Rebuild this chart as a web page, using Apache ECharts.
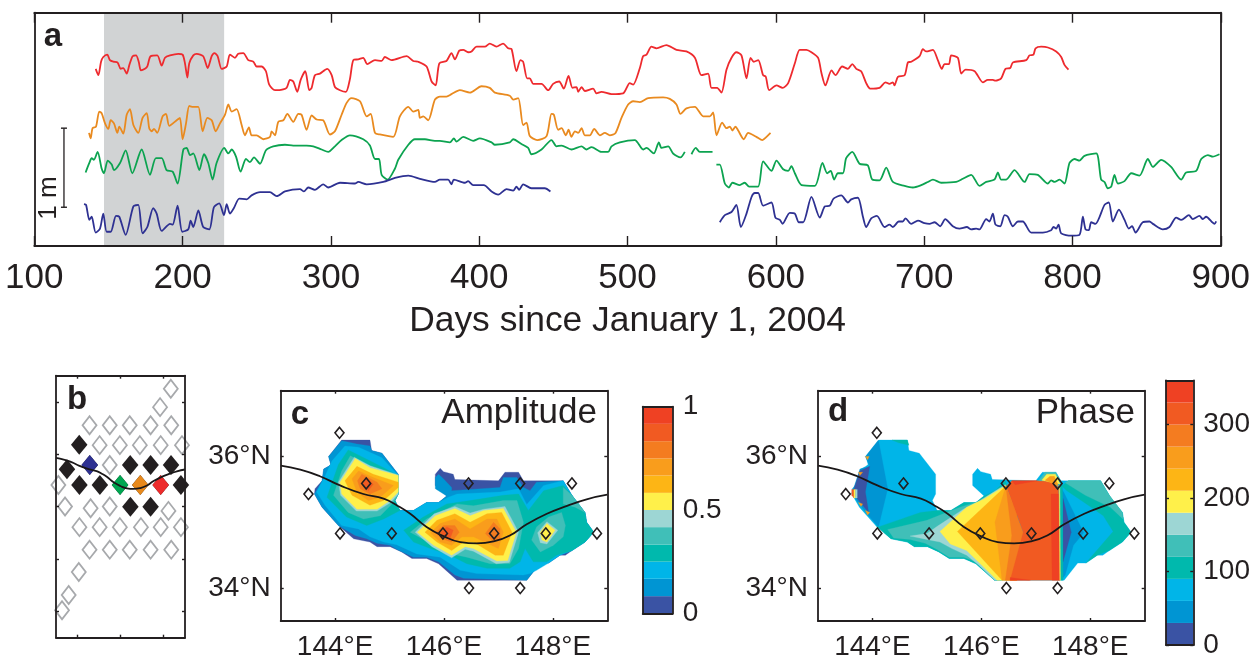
<!DOCTYPE html>
<html><head><meta charset="utf-8">
<script src="https://cdn.jsdelivr.net/npm/echarts@6/dist/echarts.min.js"></script>
<style>html,body{margin:0;padding:0;background:#fff}#c{width:1253px;height:661px}</style>
</head><body><div id="c"></div>
<script>
// ---------- panel a: sea level anomaly time series (day since 1 Jan 2004, height in m) ----------
const redDays=[141.4,143.2,145,146.5,149.2,151,153.3,156.2,158.2,160,162.3,164.1,166.3,168.6,170.4,171.9,174.6,176.2,178.4,182.9,185.9,188.1,191.5,197.1,200,201.6,203.2,204.5,207.2,209.5,213.9,216.9,219.6,221.4,223.6,226.3,229.7,231.9,235.3,237.5,240.9,244.3,247.7,249.9,253.3,256.2,258.4,262.3,265.2,270.1,272.4,274.6,277.3,279.6,282.7,285.4,287,289.2,292.6,297.5,300.5,302.7,306.1,310.1,312.8,315.1,318.4,321.8,324.5,329.7,334.2,336.4,340.9,351,355.5,358.9,364.5,367.9,370.6,373.1,377.9,381.3,383.6,386.5,389.2,392.5,394.8,398.2,403.8,407.1,411.6,416.1,419.5,421.8,425.1,427.8,429.6,432.3,434.1,436.4,442,446.5,449.8,453.9,457,460.2,462.9,465.6,466.7,469,471.2,476.8,479.1,482.4,489.2,497,501.5,503.8,508.3,510.5,512.8,516.1,519.5,526.2,533,539.7,545.4,549.8,554.3,556.6,560.4,563.3,566.7,570.1,573.4,576.8,580.2,582.9,585.1,588.1,591.4,593.2,595.5,600.4,604.5,608.3,612.8,616.1,620.6,624,628.5,630.7,633.4,637.5,640.2,644.7,648.6,651.5,654.2,657.5,660.9,663.6,669.9,673.9,676.6,678.9,680,682.3,686.8,689,691.3,696.9,699.1,701.4,705.9,709.2,711.9,713.7,716.7,718.2,722.7,725,727.9,734,739.6,742.9,746.3,748.1,751.9,754.8,758,759.8,768.8,771,773.7,775.1,778.9,783.4,789,792.4,794.6,797.3];
const redHeights=[2.24,2.16,2.33,2.39,2.42,2.35,2.33,2.32,2.24,2.25,2.18,2.29,2.40,2.41,2.33,2.22,2.24,2.27,2.40,2.41,2.28,2.38,2.41,2.43,2.42,2.31,2.13,2.31,2.41,2.43,2.40,2.25,2.40,2.44,2.40,2.24,2.27,2.42,2.38,2.43,2.44,2.35,2.33,2.27,2.27,2.21,2.04,1.97,1.97,2.00,2.10,2.08,1.95,2.10,2.21,1.97,2.00,2.16,2.18,2.24,2.16,2.01,1.97,1.95,2.11,2.35,2.36,2.38,2.30,2.35,2.34,2.39,2.35,2.40,2.34,2.33,2.27,2.08,2.03,2.31,2.34,2.44,2.36,2.47,2.48,2.45,2.46,2.52,2.52,2.56,2.52,2.56,2.50,2.49,2.21,2.35,2.33,2.12,2.12,2.05,2.05,1.97,2.05,2.08,1.99,2.15,2.00,2.01,1.95,2.01,1.96,1.99,1.93,1.95,1.92,1.93,2.06,2.04,2.25,2.40,2.42,2.52,2.50,2.54,2.48,2.46,2.38,2.16,2.18,2.00,2.00,1.94,2.23,2.38,2.45,2.41,2.12,2.38,2.33,2.35,2.16,2.14,1.97,2.03,2.00,2.06,2.31,2.48,2.48,2.45,2.38,2.19,2.03,2.22,2.16,2.27,2.24,2.30,2.24,2.21,2.06,1.99,2.00,2.07,2.05,2.07,2.03,2.14,2.16,2.32,2.33,2.40,2.49,2.46,2.48,2.35,2.24,2.30,2.30,2.41,2.38,2.18,2.23,2.21,2.07,2.10,2.10,2.09,2.12,2.24,2.25,2.32,2.35,2.41,2.42,2.50,2.52,2.51,2.46,2.39,2.29,2.23];
const orangeDays=[136.9,138,139.3,141.6,143.8,145.4,147.7,149.9,151.5,153.7,156,157.3,160,162.3,164.5,166.8,170.1,173,175.8,177.5,179.1,180.7,182.9,186.5,188.8,191,196,198.2,200,202.3,204.5,207.2,210.6,213.5,216.7,219.6,222.3,225.2,228.6,230.8,233.1,236.4,239.8,242,244.7,246.5,249.9,254.4,258.9,260,262.3,264.5,267.9,270.6,274.6,278,280.2,283.6,287,290.4,294.8,299.3,302.7,307.2,310.6,313.9,319.6,324.1,326.8,329.7,333,342,346.5,352.2,355.5,358.9,360,362.3,365.6,370.1,373.5,377.9,381.3,386.9,393.7,401.5,407.1,410.5,420.6,422.9,426.3,429.6,431.9,434.1,439.1,445.4,448.7,450.3,453.2,455.5,458.4,460.2,462.2,464.5,466.7,469,471.2,474.6,477.5,481.3,484.7,488,491.9,495.9,500.4,503.8,508.3,513.9,524,528.5,533,535.7,539.7,545.4,551,555.5,557.7,560,563.8,566.7,569,570.7,572.8,574.6,578.4,581.3,586.9,590.9,593.7,596.4];
const orangeHeights=[1.43,1.36,1.49,1.51,1.70,1.68,1.55,1.48,1.59,1.55,1.43,1.51,1.42,1.66,1.73,1.53,1.43,1.62,1.68,1.49,1.45,1.48,1.43,1.64,1.67,1.52,1.59,1.62,1.35,1.55,1.77,1.76,1.76,1.45,1.62,1.59,1.45,1.55,1.66,1.79,1.70,1.73,1.53,1.40,1.50,1.40,1.40,1.35,1.38,1.45,1.40,1.57,1.59,1.67,1.57,1.67,1.66,1.47,1.65,1.60,1.59,1.41,1.45,1.66,1.81,1.87,1.83,1.64,1.67,1.43,1.41,1.38,1.64,1.76,1.70,1.72,1.62,1.64,1.59,1.85,1.89,1.89,1.92,1.97,1.94,2.02,2.00,1.94,1.90,1.85,1.87,1.53,1.56,1.39,1.34,1.39,1.67,1.66,1.47,1.49,1.40,1.47,1.38,1.45,1.43,1.49,1.40,1.40,1.48,1.40,1.43,1.40,1.43,1.62,1.79,1.83,1.82,1.87,1.88,1.86,1.79,1.67,1.74,1.76,1.64,1.64,1.69,1.40,1.56,1.49,1.51,1.46,1.51,1.46,1.35,1.43,1.38,1.34,1.38,1.43];
const greenDays=[134.6,137.1,138.7,140.2,142.7,145.4,147,149.5,152.2,153.7,157.8,161.6,166.1,172.4,178,182,185.9,189.2,193.3,196.6,200.5,202.7,205,207.2,211.3,214.4,217.3,220.2,222.9,228.1,230.8,233.1,236,239.1,242.7,245.4,248.1,252.2,256.2,261.1,269,274.6,279.1,283.6,288.1,293.7,298.2,302.7,307.2,312.8,321.8,326.3,329.7,332.4,334.2,338.2,343.2,345.4,352.2,356.6,363.4,370.1,373.4,380.2,382.9,384.7,389.2,395.9,400.4,408.3,410.5,420.6,422.9,428.5,433,435.2,442,448.7,452.1,455.5,462.2,469,472.3,475.7,482.4,486.9,489.2,494.8,504.9,510.5,512.8,517.7,521.1,522.9,527.4,530.7,535.7,538.6,null,543.1,546,548.7,557.3,null,559.9,562.2,565.6,568.3,570.7,575.7,579,582,588,591.4,597,600.4,604.9,608.3,610.5,612.8,617.3,626.3,631.4,634.6,637,639.3,641.8,645.2,647.4,651.5,656.4,662,665,669.9,674.4,678.9,686.8,692.4,698,702.5,705.9,711.5,721.6,726.1,731.7,737.3,741.8,747.4,749.7,751.9,755.3,760.9,767.7,771,776.6,783.4,785.6,787.9,791.3,794.6,798,801.4,804.7,808.1,816,819.3,821.6,823.8,826.1,828.3,830.6,835.1,839.6,845.2,850.8,854.2,859.8,866.5,873.3,876.6,883.4,886.8,891.3,894.6,899.1];
const greenHeights=[.93,1.05,1.11,1.09,1.19,.98,.92,1.08,1.03,.96,1.05,1.21,.92,1.22,.90,1.11,1.11,.96,.94,.79,1.22,1.24,1.15,1.17,.96,1.16,1.05,.84,1.05,1.24,1.17,1.22,1.13,.94,1.10,1.06,1.12,1.04,1.21,1.26,1.28,1.27,1.27,1.27,1.26,1.22,1.19,1.26,1.34,1.40,1.35,1.27,1.10,1.10,.90,.84,.98,1.09,1.28,1.35,1.35,1.33,1.33,1.31,1.36,1.32,1.38,1.33,1.36,1.31,1.28,1.31,1.35,1.29,1.24,1.16,1.22,1.34,1.26,1.27,1.22,1.26,1.22,1.25,1.19,1.19,1.26,1.31,1.34,1.22,1.24,1.17,1.31,1.24,1.26,1.17,1.12,1.19,null,1.16,1.24,1.19,1.19,null,1.03,1.03,.79,.74,.80,.77,.80,.75,.75,1.07,.95,1.08,.97,.95,1.01,.92,.77,.76,1.05,.92,.95,.84,.92,.92,1.11,1.19,1.04,1.02,.84,.83,.99,.81,.76,.74,.77,.81,.84,.80,.81,.85,.90,.76,.81,.84,.93,.84,.84,.96,.81,.91,.90,.79,.83,.81,.84,.79,1.05,1.10,1.08,1.14,1.17,.84,.81,.73,.75,.90,.79,.82,.92,.89,1.10,1.00,1.09,1.00,.84,.93,.95,1.10,1.15,1.13,1.16];
const blueDays=[133.5,134.9,137.1,138.7,141.4,144.3,146.5,148.8,151.5,155.1,157.3,161.6,166.8,170.1,173,176.2,180.2,182.5,185.9,191.5,193.3,196.6,199.8,203.8,205.4,207.2,210.6,213.9,218,221.1,224.7,227.9,229.7,231.9,234.6,238.2,243.2,246.5,252.2,258.9,263.4,269,279.1,281.8,284.7,289.2,294.8,298.2,306.1,316.2,318.4,324.1,335.3,343.2,352.2,360,370.1,373.4,379,381.3,382.9,390.3,392.5,395.9,403.1,408.3,412.8,418.4,422.9,425.1,426.9,429.6,435.2,444.2,448,null,562.2,565.6,570.1,573.4,576.4,580.2,583.6,585.8,588.1,591.4,597,599.7,602.7,604.5,609.4,612.8,615.5,618.4,624,629.6,633,636.4,638.9,644.1,648.6,650.8,655.3,658.7,660.9,664.3,668.1,673.3,676.6,678.9,682.9,685.6,687.4,691.3,695.8,700.2,703.6,707,710.8,714.2,719.3,723.8,728.8,731.7,735.1,737.3,741.8,744,746.3,748.1,751.3,754.2,756.4,759.8,763.2,766.5,772.2,780,785.6,787.2,789,790.6,792.4,799.1,804.7,807,808.8,811,812.6,815.5,821.6,824.5,827.2,831.3,835.1,838,840.2,842.5,847.4,851.9,854.2,860.9,865.4,869.9,873.3,878.5,881.1,885.6,887.9,890.1,895.8,896.9];
const blueHeights=[.53,.52,.33,.37,.17,.22,.41,.18,.18,.38,.37,.14,.50,.52,.16,.24,.48,.41,.19,.28,.27,.51,.18,.21,.32,.24,.45,.24,.21,.49,.54,.39,.53,.41,.48,.60,.59,.64,.68,.68,.63,.69,.72,.69,.74,.71,.78,.74,.80,.79,.81,.78,.81,.86,.89,.85,.81,.84,.84,.78,.84,.80,.82,.77,.77,.69,.65,.72,.70,.75,.71,.78,.73,.73,.69,null,.30,.39,.43,.52,.24,.41,.62,.67,.67,.51,.55,.36,.33,.28,.42,.41,.30,.30,.62,.36,.50,.51,.60,.64,.55,.59,.61,.37,.24,.35,.38,.24,.27,.24,.31,.31,.35,.28,.32,.29,.28,.30,.25,.34,.25,.22,.24,.21,.22,.21,.34,.31,.41,.27,.25,.39,.37,.25,.31,.31,.17,.17,.20,.24,.22,.27,.16,.13,.14,.37,.21,.20,.30,.28,.52,.55,.31,.46,.33,.22,.25,.17,.30,.31,.28,.21,.24,.36,.33,.39,.34,.38,.34,.37,.28,.31];
const xTicksLabel='Days since January 1, 2004';
const shadedDays=[147,228];
const scaleBarDays=[120,120];
const scaleBarHeights=[0.49,1.49];

// ---------- panels b, c, d: stations, front path ----------
const gridLon=[148.34,147.84,144.56,145.50,146.43,147.40,148.36,145.03,145.97,146.90,147.87,148.86,145.50,143.11,143.42,144.61,145.50,148.23,144.09,145.03,145.97,146.95,147.87,148.81,144.56,145.50,146.43,147.40,148.36,144.06,143.59,143.28];
const gridLat=[38.50,37.80,37.11,37.11,37.11,37.11,37.11,36.35,36.35,36.35,36.35,36.35,35.59,34.83,34.01,33.94,34.01,33.84,33.22,33.22,33.22,33.22,33.22,33.22,32.36,32.36,32.36,32.36,32.36,31.51,30.63,30.05];
const stationLon=[144.08,143.51,144.57,144.09,145.04,146.45,147.40,148.35,145.98,146.92,147.87,148.81,146.46,147.40];
const stationLat=[36.36,35.43,35.59,34.83,34.83,35.59,35.59,35.59,34.83,34.83,34.83,34.83,34.00,34.00];
const highlightLon=[144.57,145.98,146.92,147.87];
const highlightLat=[35.59,34.83,34.83,34.83];
const highlightColors=['#2e3192','#00a651','#e8891c','#ed2b2b'];
const frontLon=[143.00,143.36,143.72,144.09,144.52,144.89,145.13,145.38,145.68,145.99,146.30,146.60,146.91,147.21,147.52,147.89,148.26,148.62,149.00];
const frontLat=[35.86,35.80,35.70,35.56,35.43,35.36,35.26,35.13,34.93,34.79,34.70,34.68,34.71,34.80,34.97,35.13,35.25,35.35,35.42];

// ---------- contour palette ----------
const colorSteps=['#3a53a4','#0095d3','#00b5e8','#00b9ad','#40bfb8','#9dd6d4','#fff04a','#fdb515','#f99d1c','#f47c20','#f15a22','#ef4123'];
const ampBins=[0,0.083,0.167,0.25,0.333,0.417,0.5,0.583,0.667,0.75,0.833,0.917,1];
const phaseBins=[0,30,60,90,120,150,180,210,240,270,300,330,360];

// shared outline of the mapped region (lon,lat)
const maskRing=[[143.62,35.43],[143.63,35.51],[143.76,35.63],[143.79,35.81],[143.88,35.85],[143.92,35.88],[143.88,36.00],[144.12,36.25],[144.64,36.25],[144.67,36.09],[144.86,36.05],[145.16,35.73],[145.16,35.43],[145.10,35.33],[145.19,35.18],[145.44,35.18],[145.68,35.30],[145.90,35.30],[146.05,35.40],[145.84,35.56],[145.84,35.73],[145.93,35.82],[145.99,35.77],[146.17,35.73],[146.20,35.65],[147.00,35.63],[147.12,35.76],[147.37,35.76],[147.46,35.63],[148.19,35.63],[148.35,35.41],[148.38,35.36],[148.59,35.15],[148.62,35.00],[148.75,34.85],[148.59,34.70],[148.35,34.57],[148.23,34.50],[148.13,34.50],[147.92,34.38],[147.77,34.38],[147.52,34.12],[146.24,34.12],[145.90,34.37],[145.68,34.45],[145.41,34.45],[145.22,34.55],[145.01,34.63],[144.77,34.63],[144.64,34.70],[144.34,34.75],[144.06,34.95],[143.76,35.23]];

// amplitude contours, one list per colour step
const ampLevel0=[maskRing];
const ampLevel1=[[[143.62,35.43],[143.76,35.63],[143.79,35.81],[143.88,35.85],[143.92,35.88],[143.88,36.00],[144.12,36.24],[144.40,36.19],[144.64,36.16],[144.67,36.09],[144.86,36.05],[145.16,35.73],[145.16,35.43],[145.10,35.33],[145.19,35.18],[145.44,35.18],[145.68,35.30],[145.90,35.30],[146.05,35.40],[145.84,35.51],[145.84,35.68],[145.90,35.73],[145.99,35.66],[146.14,35.53],[146.14,35.48],[147.03,35.53],[147.09,35.68],[147.34,35.68],[147.46,35.53],[147.58,35.48],[147.70,35.61],[148.19,35.63],[148.35,35.41],[148.59,35.15],[148.62,35.00],[148.75,34.85],[148.59,34.70],[148.35,34.57],[148.13,34.50],[147.92,34.38],[147.77,34.38],[147.52,34.12],[146.36,34.15],[146.20,34.20],[145.90,34.40],[145.68,34.47],[145.44,34.47],[145.13,34.59],[145.01,34.65],[144.77,34.68],[144.58,34.75],[144.37,34.80],[144.06,34.95],[143.76,35.23]]];
const ampLevel2=[[[143.66,35.46],[143.82,35.71],[143.94,35.93],[144.18,36.16],[144.43,36.14],[144.70,36.04],[144.86,35.98],[145.16,35.71],[145.16,35.43],[145.07,35.30],[145.19,35.18],[145.44,35.18],[145.68,35.30],[145.90,35.30],[146.08,35.38],[146.24,35.43],[147.03,35.46],[147.37,35.51],[147.52,35.27],[147.83,35.56],[148.19,35.63],[148.35,35.41],[148.59,35.15],[148.62,35.00],[148.75,34.85],[148.59,34.70],[148.35,34.57],[148.13,34.50],[147.92,34.38],[147.70,34.27],[147.58,34.22],[147.46,34.20],[146.60,34.22],[146.30,34.27],[145.93,34.47],[145.50,34.52],[145.13,34.66],[144.89,34.70],[144.64,34.78],[144.43,34.90],[144.12,34.95],[143.82,35.25]]];
const ampLevel3=[[[144.06,35.88],[144.24,36.10],[144.58,35.96],[144.89,35.83],[145.16,35.71],[145.16,35.43],[145.10,35.33],[145.19,35.18],[144.89,35.05],[144.58,34.95],[144.21,35.08],[143.85,35.38]],[[145.26,34.88],[145.62,35.08],[146.05,35.28],[146.48,35.33],[147.09,35.41],[147.37,35.43],[147.55,35.18],[147.83,35.48],[148.19,35.56],[148.35,35.41],[148.59,35.15],[148.62,35.00],[148.75,34.85],[148.59,34.70],[148.35,34.57],[148.07,34.50],[147.89,34.40],[147.64,34.40],[147.49,34.60],[147.40,34.40],[147.21,34.30],[146.79,34.30],[146.42,34.37],[146.11,34.50],[145.75,34.60],[145.44,34.70]]];
const ampLevel4=[[[144.12,35.78],[144.28,36.01],[144.58,35.88],[145.16,35.66],[145.16,35.43],[145.07,35.30],[144.83,35.10],[144.52,35.05],[144.24,35.15],[143.97,35.41]],[[145.38,34.85],[145.68,35.05],[146.24,35.28],[146.54,35.25],[147.09,35.33],[147.34,35.33],[147.46,35.00],[147.37,34.60],[147.21,34.37],[146.85,34.37],[146.42,34.47],[146.14,34.52],[145.75,34.68]],[[147.61,34.73],[147.70,34.93],[147.92,35.08],[148.16,35.15],[148.23,34.95],[148.19,34.78],[148.01,34.65],[147.77,34.55]],[[148.19,35.53],[148.35,35.41],[148.59,35.15],[148.41,35.23],[148.19,35.28]]];
const ampLevel5=[[[144.06,35.61],[144.35,35.99],[144.64,35.86],[145.16,35.72],[145.16,35.43],[145.02,35.30],[144.77,35.17],[144.39,35.17],[144.10,35.41]],[[145.47,34.85],[145.82,35.13],[146.20,35.24],[146.48,35.14],[146.73,35.20],[147.12,35.24],[147.37,34.85],[147.20,34.39],[146.96,34.37],[146.54,34.56],[146.39,34.59],[146.14,34.46],[145.78,34.63]],[[147.72,34.84],[147.89,35.01],[148.09,34.88],[147.89,34.67],[147.77,34.69]]];
const ampLevel6=[[[144.09,35.61],[144.37,35.97],[144.64,35.83],[145.16,35.71],[145.16,35.46],[145.01,35.33],[144.77,35.20],[144.40,35.20],[144.12,35.43]],[[145.51,34.85],[145.84,35.10],[146.20,35.21],[146.48,35.10],[146.73,35.18],[147.09,35.21],[147.33,34.85],[147.17,34.42],[146.97,34.41],[146.54,34.60],[146.39,34.63],[146.14,34.50],[145.81,34.65]],[[147.77,34.85],[147.89,34.98],[148.04,34.88],[147.89,34.70],[147.80,34.73]]];
const ampLevel7=[[[144.18,35.63],[144.40,35.85],[144.70,35.73],[145.16,35.61],[145.16,35.53],[144.89,35.33],[144.64,35.26],[144.31,35.41]],[[145.65,34.85],[145.87,35.03],[146.20,35.13],[146.48,35.00],[146.79,35.13],[147.06,35.15],[147.25,34.85],[147.09,34.50],[146.94,34.50],[146.54,34.70],[146.36,34.70],[146.14,34.57],[145.87,34.70]]];
const ampLevel8=[[[144.31,35.66],[144.43,35.78],[144.70,35.68],[145.07,35.56],[144.83,35.38],[144.61,35.33],[144.40,35.46]],[[145.75,34.84],[145.93,34.98],[146.20,35.05],[146.48,34.90],[146.79,35.05],[146.97,35.05],[147.09,34.85],[147.00,34.60],[146.54,34.78],[146.33,34.78],[146.14,34.65],[145.93,34.70]]];
const ampLevel9=[[[144.41,35.63],[144.49,35.73],[144.77,35.61],[144.86,35.51],[144.64,35.43],[144.46,35.51]],[[145.84,34.84],[145.99,34.95],[146.20,34.95],[146.28,34.85],[146.14,34.70],[145.96,34.75]],[[146.76,34.83],[146.91,35.00],[147.03,34.90],[147.03,34.75],[146.91,34.70]]];
const ampLevel10=[[[144.49,35.61],[144.58,35.68],[144.70,35.58],[144.61,35.48]],[[145.93,34.85],[146.05,34.93],[146.17,34.88],[146.11,34.75],[145.99,34.78]]];
const ampLevels=[ampLevel0,ampLevel1,ampLevel2,ampLevel3,ampLevel4,ampLevel5,ampLevel6,ampLevel7,ampLevel8,ampLevel9,ampLevel10];

// phase contours: [colour step, ring], painted in this order
const phaseRegions=[
[2,maskRing],
[1,[[144.11,36.25],[143.87,36.00],[143.95,35.85],[143.77,35.81],[143.62,35.43],[143.90,35.13],[144.11,34.93],[144.28,35.51]]],
[0,[[143.77,35.78],[143.95,35.85],[143.87,35.46],[143.93,35.15],[143.68,35.40],[143.65,35.48]]],
[10,[[143.62,35.50],[143.66,35.50],[143.66,35.37],[143.62,35.41]]],
[6,[[143.66,35.50],[143.69,35.50],[143.69,35.37],[143.66,35.37]]],
[5,[[143.69,35.50],[143.72,35.50],[143.72,35.37],[143.69,35.37]]],
[8,[[143.87,36.00],[143.94,36.00],[143.91,35.95]]],
[8,[[143.74,35.76],[143.82,35.76],[143.77,35.71]]],
[8,[[143.74,35.30],[143.82,35.28],[143.79,35.24]]],
[8,[[143.87,35.18],[143.95,35.15],[143.91,35.11]]],
[3,[[144.36,36.25],[144.64,36.25],[144.67,36.17],[144.48,36.21]]],
[3,[[144.11,34.93],[144.88,35.15],[145.19,35.18],[145.44,35.18],[145.68,35.30],[145.90,35.30],[146.05,35.40],[146.25,35.48],[146.44,35.63],[146.47,35.56],[146.38,34.12],[146.24,34.12],[145.90,34.37],[145.68,34.45],[145.41,34.45],[145.22,34.55],[145.01,34.63],[144.77,34.63],[144.64,34.70],[144.34,34.75],[144.06,34.95]]],
[4,[[144.28,34.89],[145.00,35.03],[145.30,35.13],[145.61,35.23],[145.92,35.31],[146.16,35.43],[146.44,35.58],[146.38,34.12],[146.24,34.12],[145.90,34.40],[145.68,34.47],[145.41,34.47],[145.18,34.59],[144.97,34.68],[144.69,34.74],[144.39,34.76]]],
[5,[[144.69,34.79],[145.00,34.83],[145.21,34.95],[145.67,35.20],[145.98,35.33],[146.44,35.57],[146.38,34.12],[146.25,34.12],[145.95,34.35],[145.73,34.50],[145.46,34.60],[145.24,34.70],[145.00,34.74]]],
[6,[[145.24,34.86],[145.73,35.23],[146.04,35.35],[146.45,35.56],[146.38,34.12],[146.29,34.12],[145.98,34.37],[145.73,34.57],[145.43,34.67]]],
[7,[[146.45,35.55],[145.56,34.86],[146.38,34.12],[146.65,34.12],[146.65,35.15]]],
[8,[[146.45,35.55],[146.25,35.00],[146.38,34.12],[146.65,34.12],[146.65,35.15]]],
[9,[[146.45,35.55],[146.56,34.80],[146.44,34.12],[146.65,34.12],[146.77,34.85]]],
[10,[[146.46,35.55],[146.56,35.63],[147.26,35.63],[147.42,35.53],[147.44,34.12],[146.53,34.12],[146.77,34.85]]],
[11,[[146.56,35.63],[147.02,35.63],[146.62,35.57]]],
[11,[[147.28,35.43],[147.42,35.43],[147.44,34.12],[147.30,34.12]]],
[11,[[146.53,34.12],[146.90,34.12],[146.53,34.16]]],
[4,[[147.05,35.63],[147.17,35.76],[147.37,35.76],[147.46,35.63]]],
[6,[[147.11,35.64],[147.20,35.73],[147.36,35.73],[147.45,35.58]]],
[8,[[147.17,35.64],[147.26,35.70],[147.34,35.70],[147.42,35.55]]],
[3,[[147.48,35.55],[147.60,35.63],[148.19,35.63],[148.35,35.41],[148.59,35.15],[148.62,35.00],[148.75,34.85],[148.59,34.70],[148.35,34.57],[148.13,34.50],[147.92,34.38],[148.42,34.86],[148.24,35.10],[147.91,35.29],[147.57,35.48]]],
[4,[[147.54,35.60],[147.60,35.63],[148.19,35.63],[148.35,35.41],[148.59,35.15],[148.60,35.05],[148.37,35.23],[147.91,35.41]]],
[1,[[147.46,35.53],[147.51,35.46],[147.88,34.84],[147.69,34.65],[147.54,34.20],[147.46,34.12]]],
[0,[[147.50,35.36],[147.65,34.85],[147.50,34.40]]],
[6,[[147.43,35.56],[147.45,35.56],[147.46,34.12],[147.44,34.12]]],
[3,[[147.45,35.56],[147.49,35.56],[147.50,34.12],[147.46,34.12]]]
];

// tick labels
const dayTicks=[100,200,300,400,500,600,700,800,900];
const lonTicks=[144,146,148];
const latTicksMap=[34,36];
const latTicksBox=[30,32,34,36,38];
const ampTicks=[0,0.5,1];
const phaseTicks=[0,100,200,300];

// ---------- layout helpers ----------
const FONT='Liberation Sans', INK='#231f20';
const xAxes=[],yAxes=[],grids=[],series=[];
function frame(rect,xr,yr,xo,yo){
  const gi=grids.length;
  grids.push({left:rect[0],top:rect[1],width:rect[2],height:rect[3],show:false,containLabel:false});
  const line={show:true,onZero:false,lineStyle:{color:INK,width:rect[4]||1.8}};
  ['bottom','top'].forEach((pos,k)=>{
    xAxes.push(Object.assign({type:'value',gridIndex:gi,position:pos,min:xr[0],max:xr[1],z:10,axisLine:line,splitLine:{show:false},
      axisTick:{show:false},axisLabel:{show:false}},k===0?xo.main:{},xo.tick?{axisTick:Object.assign({inside:true,lineStyle:{color:INK,width:1.4}},xo.tick)}:{}));
    yAxes.push(Object.assign({type:'value',gridIndex:gi,position:k===0?'left':'right',min:yr[0],max:yr[1],z:10,axisLine:line,splitLine:{show:false},
      axisTick:{show:false},axisLabel:{show:false}},k===(yo.side==='right'?1:0)?yo.main:{},yo.tick?{axisTick:Object.assign({inside:true,lineStyle:{color:INK,width:1.4}},yo.tick)}:{}));
  });
  return (gi*2);
}
const labelStyle={show:true,fontFamily:FONT,fontSize:28,color:INK};
const bigLabelStyle={show:true,fontFamily:FONT,fontSize:35,color:INK};
function addLine(ax,days,vals,color){
  series.push({type:'line',xAxisIndex:ax,yAxisIndex:ax,showSymbol:false,smooth:0.25,z:4,silent:true,animation:false,
    connectNulls:false,lineStyle:{color:color,width:1.8,join:'round'},
    data:days.map((d,i)=>d===null?[null,'-']:[d,vals[i]])});
}
function polygonSeries(ax,regions){
  series.push({type:'custom',xAxisIndex:ax,yAxisIndex:ax,z:2,silent:true,animation:false,clip:true,
    data:regions.map((r,i)=>[r[1][0][0],r[1][0][1],i]),
    renderItem:(params,api)=>{
      const r=regions[params.dataIndex];
      return {type:'polygon',shape:{points:r[1].map(p=>api.coord(p))},style:{fill:colorSteps[r[0]],stroke:colorSteps[r[0]],lineWidth:0.3}};
    }});
}
function scatter(ax,lon,lat,size,style,z){
  series.push({type:'scatter',xAxisIndex:ax,yAxisIndex:ax,symbol:'diamond',symbolSize:size,clip:false,z:z,silent:true,animation:false,
    itemStyle:Object.assign({opacity:1},style),data:lon.map((v,i)=>[v,lat[i]])});
}
function frontLine(ax,z){
  series.push({type:'line',xAxisIndex:ax,yAxisIndex:ax,showSymbol:false,smooth:true,z:z,silent:true,animation:false,
    lineStyle:{color:'#1a1718',width:1.8},data:frontLon.map((v,i)=>[v,frontLat[i]])});
}
function colorbar(ax,bins){
  series.push({type:'custom',xAxisIndex:ax,yAxisIndex:ax,z:2,silent:true,animation:false,
    data:colorSteps.map((c,i)=>[0,bins[i],bins[i+1],i]),
    renderItem:(params,api)=>{
      const a=api.coord([0,api.value(1)]),b=api.coord([1,api.value(2)]);
      return {type:'rect',shape:{x:a[0],y:b[1],width:b[0]-a[0],height:a[1]-b[1]},style:{fill:colorSteps[params.dataIndex]}};
    }});
}

// ---------- panel a ----------
const A=frame([34.3,12.7,1187.7,233.3,1.8],[100,900],[0,2.95],
  {tick:{show:true,length:10,customValues:dayTicks},main:{interval:100,name:xTicksLabel,nameLocation:'middle',nameGap:58,
    nameTextStyle:{fontFamily:FONT,fontSize:35.4,color:INK},axisLabel:Object.assign({margin:15,customValues:dayTicks},bigLabelStyle)}},{});
series.push({type:'custom',xAxisIndex:A,yAxisIndex:A,z:1,silent:true,animation:false,clip:true,data:[[shadedDays[0],shadedDays[1]]],
  renderItem:(params,api)=>{
    const a=api.coord([api.value(0),2.95]),b=api.coord([api.value(1),0]);
    return {type:'rect',shape:{x:a[0],y:a[1],width:b[0]-a[0],height:b[1]-a[1]},style:{fill:'#d1d3d4'}};
  }});
addLine(A,redDays,redHeights,'#ee2a2e');
addLine(A,orangeDays,orangeHeights,'#e98a1f');
addLine(A,greenDays,greenHeights,'#0ca350');
addLine(A,blueDays,blueHeights,'#2e3192');
series.push({type:'line',xAxisIndex:A,yAxisIndex:A,z:4,silent:true,animation:false,symbol:'rect',symbolSize:[6,1.4],showSymbol:true,
  itemStyle:{color:INK},lineStyle:{color:INK,width:1.3},data:scaleBarDays.map((d,i)=>[d,scaleBarHeights[i]])});

// ---------- panel b ----------
const smallTick={show:true,length:3};
const B=frame([56,375.7,129,262,1.8],[143,149],[29,39],
  {tick:Object.assign({customValues:lonTicks},smallTick),main:{}},{tick:Object.assign({customValues:latTicksBox},smallTick),main:{}});
scatter(B,gridLon,gridLat,[14,18],{color:'rgba(0,0,0,0)',borderColor:'#a7a9ac',borderWidth:1.8},3);
scatter(B,stationLon,stationLat,[16.5,20],{color:'#231f20'},3);
series.push({type:'scatter',xAxisIndex:B,yAxisIndex:B,symbol:'diamond',symbolSize:[16.5,20],clip:false,z:4,silent:true,animation:false,
  data:highlightLon.map((v,i)=>({value:[v,highlightLat[i]],itemStyle:{color:highlightColors[i],opacity:1}}))});
frontLine(B,5);

// ---------- panel c ----------
const mapX={tick:Object.assign({customValues:lonTicks},smallTick)};
const mapY={tick:Object.assign({customValues:latTicksMap},smallTick)};
const lonLabel={axisLabel:Object.assign({margin:12,customValues:lonTicks,formatter:v=>v+'°E'},labelStyle)};
const latLabel={axisLabel:Object.assign({margin:10,padding:[7,0,0,0],customValues:latTicksMap,formatter:v=>v+'°N'},labelStyle)};
const C=frame([280.7,390.7,326.6,232,1.8],[143,149],[33.5,37],Object.assign({main:lonLabel},mapX),Object.assign({main:latLabel},mapY));
const ampRegions=[];
ampLevels.forEach((rings,i)=>rings.forEach(r=>ampRegions.push([i,r])));
polygonSeries(C,ampRegions);
frontLine(C,4);
scatter(C,stationLon,stationLat,[9,11],{color:'rgba(0,0,0,0)',borderColor:INK,borderWidth:1.6},5);

// ---------- panel d ----------
const D=frame([818,390.7,326.7,232,1.8],[143,149],[33.5,37],Object.assign({main:lonLabel},mapX),Object.assign({main:latLabel},mapY));
polygonSeries(D,phaseRegions);
frontLine(D,4);
scatter(D,stationLon,stationLat,[9,11],{color:'rgba(0,0,0,0)',borderColor:INK,borderWidth:1.6},5);

// ---------- colour bars ----------
const CB1=frame([642.7,406.7,30,206.6,1.8],[0,1],[0,1],{main:{}},
  {side:'right',main:{axisLabel:Object.assign({margin:10,padding:[7,0,0,0],customValues:ampTicks,formatter:v=>String(v)},labelStyle)}});
colorbar(CB1,ampBins);
const CB2=frame([1166,380.5,30.7,264.5,1.8],[0,1],[0,360],{main:{}},
  {side:'right',tick:{show:true,length:3,customValues:phaseTicks},main:{axisLabel:Object.assign({margin:10,padding:[7,0,0,0],customValues:phaseTicks,formatter:v=>String(v)},labelStyle)}});
colorbar(CB2,phaseBins);

// ---------- letters and titles ----------
function txt(x,y,text,size,bold,align,extra){
  return Object.assign({type:'text',x:x,y:y,z:20,silent:true,style:{text:text,fontFamily:FONT,fontSize:size,fontWeight:bold?'bold':'normal',fill:INK,textAlign:align||'center',textVerticalAlign:'middle',align:align||'center',verticalAlign:'middle'}},extra||{});
}
const chart=echarts.init(document.getElementById('c'),null,{renderer:'canvas'});
chart.setOption({
  animation:false,backgroundColor:'#fff',grid:grids,xAxis:xAxes,yAxis:yAxes,series:series,
  graphic:{elements:[
    txt(53,36.5,'a',33,true),txt(77,400,'b',33,true),txt(300,414.5,'c',33,true),txt(838,412,'d',33,true),
    txt(597,413.5,'Amplitude',35,false,'right'),txt(1135,413.5,'Phase',35,false,'right'),
    txt(49,198,'1 m',26,false,'center',{rotation:Math.PI/2})
  ]}
});
</script></body></html>
